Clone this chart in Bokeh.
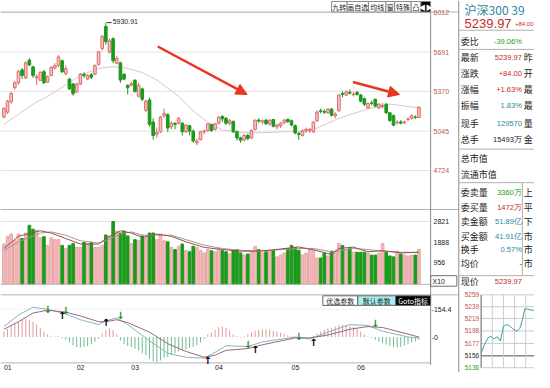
from bokeh.plotting import figure
from bokeh.models import Range1d, ColumnDataSource, Arrow, NormalHead
from bokeh.core.properties import value
from bokeh.embed import file_html
from bokeh.resources import INLINE

# ---------------- data ----------------
opens = [5160, 5200, 5285, 5400, 5440, 5545, 5480, 5625, 5570, 5480,
         5460, 5530, 5445, 5500, 5560, 5580, 5620, 5515, 5470, 5430,
         5365, 5430, 5510, 5470, 5505, 5510, 5590, 5720, 5900, 5690,
         5800, 5600, 5603, 5510, 5420, 5420, 5460, 5330, 5390, 5215,
         5300, 5120, 5020, 5040, 5170, 5180, 5080, 5108, 5110, 5110,
         5040, 5090, 5045, 4950, 4975, 5040, 5050, 5100, 5060, 5110,
         5165, 5150, 5110, 5125, 5040, 4990, 4975, 5010, 4990, 5060,
         5135, 5120, 5135, 5105, 5140, 5080, 5090, 5115, 5140, 5130,
         5090, 5025, 5010, 5045, 5050, 5040, 5130, 5212, 5205, 5195,
         5225, 5170, 5211, 5352, 5340, 5362, 5343, 5360, 5340, 5310,
         5235, 5275, 5305, 5235, 5245, 5265, 5195, 5172, 5115, 5120,
         5115, 5140, 5150, 5160, 5156]
highs = [5240, 5300, 5365, 5455, 5545, 5560, 5615, 5640, 5580, 5510,
         5535, 5545, 5500, 5575, 5600, 5665, 5630, 5580, 5480, 5440,
         5440, 5520, 5525, 5510, 5520, 5590, 5700, 5830, 5930.91, 5800,
         5810, 5660, 5610, 5515, 5425, 5450, 5470, 5440, 5400, 5300,
         5320, 5150, 5075, 5170, 5230, 5190, 5125, 5120, 5160, 5120,
         5100, 5095, 5060, 4985, 5045, 5060, 5110, 5105, 5110, 5170,
         5175, 5160, 5145, 5130, 5050, 5000, 5020, 5025, 5060, 5140,
         5150, 5140, 5145, 5140, 5145, 5105, 5120, 5145, 5150, 5140,
         5100, 5040, 5060, 5075, 5070, 5125, 5215, 5230, 5225, 5235,
         5235, 5200, 5345, 5370, 5380, 5385, 5365, 5375, 5350, 5320,
         5280, 5295, 5310, 5275, 5275, 5275, 5200, 5180, 5135, 5135,
         5130, 5160, 5180, 5175, 5248]
lows = [5150, 5185, 5270, 5385, 5425, 5470, 5470, 5575, 5480, 5420,
        5455, 5430, 5440, 5490, 5550, 5570, 5520, 5500, 5380, 5335,
        5355, 5420, 5480, 5460, 5470, 5500, 5580, 5700, 5750, 5680,
        5600, 5590, 5440, 5460, 5345, 5410, 5360, 5320, 5290, 5200,
        5080, 4975, 4990, 5030, 5150, 5040, 5060, 5060, 5100, 5010,
        5030, 5010, 4950, 4930, 4970, 5020, 5040, 5040, 5050, 5100,
        5120, 5095, 5090, 5030, 4970, 4950, 4960, 4970, 4980, 5050,
        5110, 5100, 5095, 5090, 5075, 5060, 5070, 5100, 5110, 5085,
        5020, 4975, 5000, 5030, 5030, 5030, 5120, 5190, 5185, 5185,
        5165, 5150, 5205, 5320, 5330, 5345, 5330, 5335, 5280, 5250,
        5225, 5255, 5240, 5225, 5230, 5185, 5120, 5085, 5095, 5100,
        5100, 5125, 5140, 5145, 5152]
closes = [5230, 5290, 5352, 5440, 5530, 5500, 5603, 5585, 5500, 5490,
          5525, 5440, 5490, 5565, 5580, 5650, 5530, 5555, 5390, 5350,
          5430, 5510, 5500, 5500, 5485, 5580, 5695, 5820, 5775, 5782,
          5620, 5640, 5462, 5470, 5400, 5432, 5368, 5420, 5305, 5290,
          5100, 5010, 5035, 5160, 5190, 5070, 5110, 5100, 5150, 5040,
          5095, 5045, 4965, 4965, 5040, 5045, 5105, 5050, 5105, 5160,
          5145, 5110, 5130, 5040, 4990, 4970, 5010, 4985, 5050, 5135,
          5128, 5130, 5105, 5135, 5085, 5095, 5110, 5135, 5123, 5095,
          5030, 5018, 5045, 5060, 5058, 5120, 5200, 5205, 5200, 5225,
          5175, 5185, 5340, 5345, 5365, 5355, 5348, 5345, 5290, 5265,
          5270, 5272, 5250, 5265, 5255, 5195, 5133, 5094, 5118, 5110,
          5120, 5143, 5172, 5156, 5239.97]
volumes = [1800, 2150, 2250, 1950, 2250, 2050, 2300, 2650, 2470, 2430,
           2080, 2130, 1740, 2080, 2000, 2000, 1740, 1600, 1740, 1820,
           1650, 1650, 1870, 1820, 1870, 1650, 1650, 1740, 2210, 2170,
           2820, 2390, 2300, 2390, 2170, 1820, 2000, 1950, 2170, 2080,
           2300, 2300, 2000, 2250, 1950, 1900, 1650, 1550, 1700, 1800,
           1500, 1450, 1700, 1650, 1500, 1400, 1550, 1500, 1450, 1600,
           1500, 1450, 1350, 1500, 1550, 1400, 1300, 1350, 1450, 1700,
           1550, 1400, 1450, 1500, 1520, 1220, 1300, 1400, 1600, 1740,
           1650, 1520, 1300, 1390, 1560, 1520, 1170, 1170, 1390, 1260,
           1480, 1480, 1820, 1740, 1560, 1650, 1430, 1430, 1430, 1430,
           1390, 1300, 1300, 1390, 1820, 1430, 1260, 1220, 1480, 1350,
           1300, 1260, 1300, 1300, 1560]
macd_hist = [30, 45, 60, 75, 85, 95, 100, 95, 85, 70,
             50, 30, 15, 5, 3, 5, -5, -15, -30, -45,
             -55, -58, -55, -50, -40, -25, -10, 20, 40, 48,
             40, 15, -20, -40, -50, -55, -65, -75, -90, -100,
             -120, -135, -138, -130, -115, -110, -100, -90, -80, -75,
             -70, -60, -55, -45, -30, -10, 15, 25, 40, 55,
             58, 50, 35, 15, 5, -3, 5, 15, 25, 35,
             40, 43, 42, 40, 35, 30, 25, 18, 10, 3,
             -5, -10, -8, -5, -3, 8, 20, 30, 40, 48,
             52, 58, 65, 69, 68, 62, 55, 45, 30, 15,
             5, -5, -15, -25, -35, -42, -50, -55, -58, -55,
             -48, -40, -32, -25, -15]
macd_idx = [0, 4, 8, 12, 17, 21, 26, 28, 31, 34, 40, 45, 50, 55, 58, 61, 67, 71, 80, 84, 89, 95, 100, 104, 111, 114]
dif_val = [58, 122, 165, 154, 128, 96, 69, 90, 106, 69, -21, -90, -112, -117, -85, -48, -53, -27, 0, -11, 27, 69, 64, 32, 0, -5]
dea_val = [43, 85, 133, 149, 138, 117, 85, 85, 96, 80, 27, -37, -80, -112, -101, -74, -64, -43, -5, -5, 11, 43, 58, 53, 16, 0]
sell_idx = [12, 17, 32, 67, 81, 102]
sell_val = [154, 149, 117, -43, 5, 74]
buy_idx = [16, 28, 56, 69, 85]
buy_val = [122, 80, -128, -69, -32]
ma_idx = [0, 8, 12, 17, 21, 26, 30, 33, 38, 42, 48, 52, 56, 60, 66, 71, 76, 82, 86, 92, 100, 104, 106, 114]
ma_val = [5100, 5266, 5329, 5423, 5501, 5556, 5571, 5564, 5524, 5462, 5329, 5211, 5117, 5055,
          5032, 5032, 5039, 5047, 5070, 5149, 5227, 5251, 5266, 5235]
vma_idx = [0, 4, 10, 13, 17, 21, 26, 28, 32, 35, 38, 42, 46, 50, 55, 60, 65, 70, 74, 81, 85, 90, 92, 96, 100, 104, 109, 114]
vma1_val = [1600, 2150, 2400, 2300, 2050, 1800, 1800, 2050, 2400, 2300, 2100, 2250, 2150, 1900,
            1650, 1550, 1480, 1480, 1540, 1670, 1540, 1330, 1600, 1660, 1450, 1500, 1400, 1430]
vma2_val = [1500, 1900, 2300, 2350, 2200, 1950, 1850, 1950, 2250, 2350, 2200, 2200, 2200, 2000,
            1750, 1600, 1520, 1480, 1520, 1600, 1600, 1450, 1500, 1600, 1550, 1480, 1430, 1420]
month_labels = ["01", "02", "03", "04", "05", "06"]
month_start_idx = [0, 20, 35, 58, 79, 97]
price_ticks = [6012, 5691, 5370, 5045, 4724]
vol_ticks = [2821, 1888, 956]
macd_ticks = [154.4, 0]
peak_label = "5930.91"
peak_idx = 28
intra_min = [0, 8, 18, 26, 34, 44, 52, 60, 70, 78, 86, 97, 104, 112, 117, 125, 136, 143]
intra_price = [5160, 5173, 5186, 5189, 5185, 5188, 5181, 5206, 5209, 5206, 5201, 5198, 5202,
               5219, 5235, 5235, 5233, 5233]
intra_ticks = [5259, 5239, 5219, 5198, 5177, 5156, 5136]
intra_prev_close = 5156
info_title = "沪深300 39"
info_price = "5239.97"
info_change = "+84.00"
info_labels = ["委比", "最新", "涨跌", "涨幅", "振幅", "现手", "总手", "总市值", "流通市值",
               "委卖量", "委买量", "卖金额", "买金额", "换手", "均价", "现价"]
info_values = ["-39.06%", "5239.97", "+84.00", "+1.63%", "1.83%", "129570", "15493万", "", "",
               "3360万", "1472万", "51.89亿", "41.91亿", "0.57%", "-", "5239.97"]
info_tails = ["", "昨", "开", "最", "最", "量", "金", "", "",
              "上", "平", "下", "市", "市", "市", ""]
top_buttons = ["九转", "画自选", "均线", "窗", "特殊", "凸", "◀▶"]
macd_buttons = ["优选参数", "默认参数", "Goto指标"]

# ---------------- layout / style constants ----------------
REF_W, REF_H = 550, 388          # reference picture space, squeezed into the 534x372 canvas
CANVAS_W, CANVAS_H = 534, 372
CX0, CDX = 3.5, 3.75
P_REF, P_REF_Y, P_PER_PX = 6012.0, 12.7, 7.825
V_BASE_Y, V_PER_PX = 295.5, 43.4
M_ZERO_Y, M_PER_PX = 351.0, 5.32
I_REF, I_REF_Y, I_PER_PX = 5259.0, 307.0, 1.618
I_X0, I_PX_PER_MIN = 495.0, 11.5 / 30
UP_FILL, UP_LINE, DOWN = "#f6c4c4", "#dc6a6a", "#1c9a1c"
RED, GREEN, TEAL, DARK = "#c8282a", "#1f9a2a", "#2a86a0", "#222222"
CJK = "Noto Sans CJK SC"
LAT = "Liberation Sans"


def idx_of(x):
    return (x - CX0) / CDX


def price_of(y):
    return P_REF - (y - P_REF_Y) * P_PER_PX


p = figure(width=CANVAS_W, height=CANVAS_H, output_backend="svg", toolbar_location=None,
           x_axis_location=None, y_axis_location=None, title=None, min_border=0,
           x_range=Range1d(idx_of(0), idx_of(REF_W)),
           y_range=Range1d(price_of(REF_H), price_of(0)))
p.outline_line_color = None
p.background_fill_color = "white"
p.border_fill_color = "white"
p.grid.grid_line_color = None
p.extra_x_ranges = {"px": Range1d(0, REF_W),
                    "ix": Range1d((0 - I_X0) / I_PX_PER_MIN, (REF_W - I_X0) / I_PX_PER_MIN)}
p.extra_y_ranges = {"px": Range1d(REF_H, 0),
                    "vol": Range1d((V_BASE_Y - REF_H) * V_PER_PX, V_BASE_Y * V_PER_PX),
                    "macd": Range1d((M_ZERO_Y - REF_H) * M_PER_PX, M_ZERO_Y * M_PER_PX),
                    "iy": Range1d(I_REF - (REF_H - I_REF_Y) * I_PER_PX, I_REF + I_REF_Y * I_PER_PX)}


def seg(x0, y0, x1, y1, color, width=1, dash="solid", xr="px", yr="px"):
    p.segment(x0=x0, y0=y0, x1=x1, y1=y1, line_color=color, line_width=width, line_dash=dash,
              x_range_name=xr, y_range_name=yr)


def txt(xs, ys, texts, colors, size, align="left", font=CJK, style="normal", xr="px", yr="px"):
    if isinstance(colors, str):
        colors = [colors] * len(xs)
    src = ColumnDataSource(dict(x=xs, y=ys, t=texts, c=colors))
    p.text(x="x", y="y", text="t", text_color="c", source=src, text_font=value(font),
           text_font_size=value(size), text_align=align, text_baseline="middle",
           text_font_style=style, x_range_name=xr, y_range_name=yr)


# ---------------- grid lines & frames ----------------
n_pt = len(price_ticks)
seg([0] * n_pt, price_ticks, [443] * n_pt, price_ticks, "#e2e2e2", yr="default")
seg([0], [vol_ticks[0]], [443], [vol_ticks[0]], "#e2e2e2", yr="vol")
seg([0], [macd_ticks[0]], [443], [macd_ticks[0]], "#d8d8d8", dash="1 2", yr="macd")
seg([0, 0, 0, 0, 0], [12, 218, 296, 307, 378], [472, 472, 443, 472, 443], [12, 218, 296, 307, 378],
    "#b4b4b4")
seg([443, 472], [12, 0], [443, 472], [380, 388], "#8c8c8c")
seg([472, 472, 472, 472, 472], [31, 51, 155, 190, 287], [550, 550, 550, 550, 550],
    [31, 51, 155, 190, 287], "#b0b0b0")
seg([537.5], [190], [537.5], [287], "#b0b0b0")
p.quad(left=[443], right=[470], top=[287], bottom=[298], fill_color=None, line_color="#707070",
       x_range_name="px", y_range_name="px")
txt([445], [293], ["X10"], DARK, "7px", font=LAT)

# top toolbar buttons
tb_edges = [341, 357, 379, 397, 406, 423, 433, 443]
p.quad(left=tb_edges[:-1], right=tb_edges[1:], top=[1] * 7, bottom=[12] * 7,
       fill_color=["white"] * 6 + ["black"], line_color="#888888", x_range_name="px", y_range_name="px")
txt([(a + b) / 2 for a, b in zip(tb_edges[:-1], tb_edges[1:])], [6.5] * 7, top_buttons,
    [DARK] * 6 + ["white"], "7px", align="center")

# macd toolbar buttons
mb_edges = [332, 368, 407, 443]
p.quad(left=mb_edges[:-1], right=mb_edges[1:], top=[308] * 3, bottom=[318] * 3,
       fill_color=["white", "#a6f0f0", "black"], line_color="#666666", x_range_name="px", y_range_name="px")
txt([(a + b) / 2 for a, b in zip(mb_edges[:-1], mb_edges[1:])], [313] * 3, macd_buttons,
    [DARK, DARK, "white"], "7px", align="center")

# ---------------- price panel ----------------
N = len(closes)
idx = list(range(N))
up = [c >= o for o, c in zip(opens, closes)]


def pick(flag):
    sel = [i for i in idx if up[i] == flag]
    return ColumnDataSource(dict(x=sel, top=[max(opens[i], closes[i]) for i in sel],
                                 bot=[min(opens[i], closes[i]) for i in sel],
                                 h=[highs[i] for i in sel], l=[lows[i] for i in sel],
                                 v=[volumes[i] for i in sel]))


src_up, src_dn = pick(True), pick(False)
p.line(ma_idx, ma_val, line_color="#d9c6cc", line_width=1)
p.segment(x0="x", y0="l", x1="x", y1="h", source=src_up, line_color=UP_LINE, line_width=1)
p.segment(x0="x", y0="l", x1="x", y1="h", source=src_dn, line_color=DOWN, line_width=1)
p.vbar(x="x", top="top", bottom="bot", width=0.72, source=src_up, fill_color=UP_FILL, line_color=UP_LINE)
p.vbar(x="x", top="top", bottom="bot", width=0.72, source=src_dn, fill_color=DOWN, line_color=DOWN)

# peak annotation
peak_x = CX0 + CDX * peak_idx
seg([peak_x + 1], [highs[peak_idx]], [peak_x + 6], [highs[peak_idx]], "#333333", yr="default")
txt([peak_x + 7], [P_REF_Y + (P_REF - highs[peak_idx]) / P_PER_PX - 1.5], [peak_label], DARK, "7px", font=LAT)

# red arrows
for (xa, ya, xb, yb) in [(162, 48, 254, 98), (363, 85, 411, 98)]:
    p.add_layout(Arrow(end=NormalHead(size=11, fill_color="#e8361f", line_color="#e8361f"),
                       x_start=xa, y_start=ya, x_end=xb, y_end=yb, line_color="#e8361f",
                       line_width=2.5, x_range_name="px", y_range_name="px"))

# price axis labels
txt([446] * n_pt, [P_REF_Y + (P_REF - t) / P_PER_PX for t in price_ticks], [str(t) for t in price_ticks],
    "#b85a5a", "7px", font=LAT)

# ---------------- volume panel ----------------
p.vbar(x="x", top="v", bottom=0, width=0.72, source=src_up, fill_color="#f3bcbc", line_color="#e8a4a4",
       y_range_name="vol")
p.vbar(x="x", top="v", bottom=0, width=0.72, source=src_dn, fill_color=DOWN, line_color=DOWN,
       y_range_name="vol")
p.line(vma_idx, vma2_val, line_color="#9a9a9a", line_width=1, y_range_name="vol")
p.line(vma_idx, vma1_val, line_color="#a04a4a", line_width=1, y_range_name="vol")
txt([446] * len(vol_ticks), [V_BASE_Y - t / V_PER_PX for t in vol_ticks], [str(t) for t in vol_ticks],
    DARK, "7px", font=LAT)

# ---------------- MACD panel ----------------
hist_pos = [(i, h) for i, h in zip(idx, macd_hist) if h >= 0]
hist_neg = [(i, h) for i, h in zip(idx, macd_hist) if h < 0]
p.segment(x0=[a for a, _ in hist_pos], y0=[0] * len(hist_pos), x1=[a for a, _ in hist_pos],
          y1=[b for _, b in hist_pos], line_color="#e09a9a", line_width=1, y_range_name="macd")
p.segment(x0=[a for a, _ in hist_neg], y0=[0] * len(hist_neg), x1=[a for a, _ in hist_neg],
          y1=[b for _, b in hist_neg], line_color="#6fbb8f", line_width=1, y_range_name="macd")
p.line(macd_idx, dif_val, line_color="#86b6b8", line_width=1, y_range_name="macd")
p.line(macd_idx, dea_val, line_color="#9a6688", line_width=1, y_range_name="macd")
p.text(x=sell_idx, y=sell_val, text=["↓"] * len(sell_idx), text_color="#1f8f2a",
       text_font=value("DejaVu Sans"), text_font_size=value("10px"), text_font_style="bold",
       text_align="center", text_baseline="middle", y_range_name="macd")
p.text(x=buy_idx, y=buy_val, text=["↑"] * len(buy_idx), text_color="black",
       text_font=value("DejaVu Sans"), text_font_size=value("10px"), text_font_style="bold",
       text_align="center", text_baseline="middle", y_range_name="macd")
txt([444] * len(macd_ticks), [M_ZERO_Y - t / M_PER_PX for t in macd_ticks],
    ["-" + str(t) for t in macd_ticks], DARK, "7px", font=LAT)

# month labels
txt([CX0 + CDX * i for i in month_start_idx], [382.5] * len(month_labels), month_labels, DARK, "7px", font=LAT)

# ---------------- info panel ----------------
txt([478], [9], [info_title], TEAL, "12px")
txt([478], [24], [info_price], RED, "13px", font=LAT)
txt([549], [24], [info_change], RED, "6px", align="right", font=LAT)
row_y = [43, 59, 76, 93, 110, 128, 145, 165, 182, 200, 216, 231, 246, 260, 274, 293]
val_colors = [GREEN, RED, RED, RED, TEAL, TEAL, DARK, DARK, DARK, GREEN, RED, TEAL, TEAL, TEAL, DARK, RED]
txt([474] * len(info_labels), row_y, info_labels, DARK, "9px")
txt([537] * len(info_values), row_y, info_values, val_colors, "7.5px", align="right", font=LAT)
txt([539] * len(info_tails), row_y, info_tails, DARK, "9px")

# intraday mini chart
n_it = len(intra_ticks)
seg([0] * n_it, intra_ticks, [143] * n_it, intra_ticks,
    ["#505050" if t == intra_prev_close else "#cccccc" for t in intra_ticks], xr="ix", yr="iy")
seg([0, 30, 60, 90, 120], [intra_ticks[0]] * 5, [0, 30, 60, 90, 120], [intra_ticks[-1]] * 5,
    ["#606060"] + ["#cccccc"] * 4, xr="ix", yr="iy")
p.line(intra_min, intra_price, line_color="#3aa0a8", line_width=1, x_range_name="ix", y_range_name="iy")
txt([493] * n_it, [I_REF_Y + (I_REF - t) / I_PER_PX for t in intra_ticks], [str(t) for t in intra_ticks],
    ["#c05050" if t > intra_prev_close else (DARK if t == intra_prev_close else GREEN) for t in intra_ticks],
    "6.5px", align="right", font=LAT)

open("out.html", "w").write(file_html(p, INLINE))
